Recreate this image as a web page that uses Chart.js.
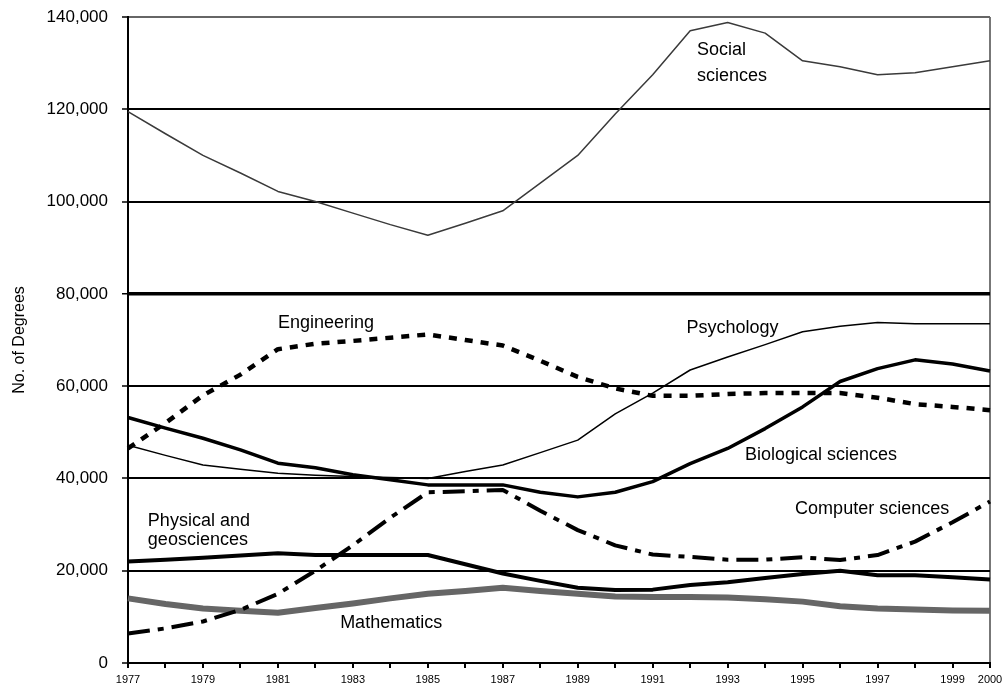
<!DOCTYPE html>
<html>
<head>
<meta charset="utf-8">
<script src="https://cdn.jsdelivr.net/npm/chart.js@4.4.1/dist/chart.umd.min.js"></script>
<style>
  html, body { margin: 0; padding: 0; background: #fff; }
  #wrap { width: 1004px; height: 689px; position: relative; }
</style>
</head>
<body>
<div id="wrap"><canvas id="c" width="1004" height="689"></canvas></div>
<script>
const years = [1977,1978,1979,1980,1981,1982,1983,1984,1985,1986,1987,1988,1989,1990,1991,1992,1993,1994,1995,1996,1997,1998,1999,2000];
const yTicks = [0,20000,40000,60000,80000,100000,120000,140000];

const socialSciences = [119500,114700,110000,106200,102200,100000,97500,95000,92700,95300,98000,104000,110000,119000,127500,137000,138800,136500,130500,129200,127500,127900,129200,130500];
const engineering = [46500,52000,58000,62500,68000,69200,69800,70500,71200,70000,68800,65500,62000,59500,57900,57900,58300,58500,58500,58500,57500,56100,55500,54800];
const psychology = [47200,45000,42900,42000,41100,40700,40400,40200,40000,41500,42900,45600,48300,54000,58500,63500,66300,69000,71800,73000,73800,73500,73500,73500];
const biologicalSciences = [53200,50900,48700,46200,43300,42300,40800,39700,38600,38600,38600,37000,36000,37000,39300,43200,46500,50800,55500,61000,63800,65700,64800,63300];
const computerSciences = [6400,7500,9000,11500,15000,20000,25500,31500,37000,37200,37500,33000,28800,25500,23500,23000,22400,22400,22900,22300,23400,26300,30500,35000];
const physicalGeosciences = [22000,22400,22800,23300,23800,23400,23400,23400,23400,21400,19400,17800,16300,15800,15900,16900,17500,18400,19300,20000,19000,19000,18600,18100];
const mathematics = [14000,12800,11800,11300,10900,11900,12900,14000,15000,15600,16300,15600,15000,14400,14300,14300,14200,13800,13300,12300,11800,11600,11400,11300];

// series labels: [text, anchor year, anchor value]
const seriesLabels = [
  ['Social', 1992.18, 132800],
  ['sciences', 1992.18, 127200],
  ['Engineering', 1981.0, 73700],
  ['Psychology', 1991.9, 72600],
  ['Biological sciences', 1993.46, 45100],
  ['Physical and', 1977.53, 30800],
  ['geosciences', 1977.53, 26700],
  ['Computer sciences', 1994.8, 33400],
  ['Mathematics', 1982.66, 8700]
];

const FONT = "'Liberation Sans', Arial, Helvetica, sans-serif";

const labelPlugin = {
  id: 'seriesLabels',
  afterDatasetsDraw(chart) {
    const ctx = chart.ctx;
    const xs = chart.scales.x, ys = chart.scales.y;
    ctx.save();
    ctx.font = '18px ' + FONT;
    ctx.fillStyle = '#000';
    ctx.textAlign = 'left';
    ctx.textBaseline = 'middle';
    seriesLabels.forEach(([t, yr, v]) => {
      ctx.fillText(t, xs.getPixelForValue(yr - years[0]), ys.getPixelForValue(v));
    });
    ctx.restore();
  }
};

function ds(label, data, color, width, dash) {
  return {
    label, data,
    borderColor: color,
    backgroundColor: color,
    borderWidth: width,
    borderDash: dash || [],
    pointRadius: 0,
    tension: 0,
    fill: false,
    borderCapStyle: 'butt',
    borderJoinStyle: 'round'
  };
}

new Chart(document.getElementById('c'), {
  type: 'line',
  data: {
    labels: years.map(String),
    datasets: [
      ds('Social sciences', socialSciences, '#3a3a3a', 1.5),
      ds('Psychology', psychology, '#000', 1.5),
      ds('Engineering', engineering, '#000', 4.5, [8, 8]),
      ds('Biological sciences', biologicalSciences, '#000', 3.5),
      ds('Computer sciences', computerSciences, '#000', 4, [22, 8, 6, 8]),
      ds('Physical and geosciences', physicalGeosciences, '#000', 4),
      ds('Mathematics', mathematics, '#666', 6)
    ]
  },
  options: {
    responsive: false,
    animation: false,
    events: [],
    layout: { padding: { top: 17, right: 14, left: 0, bottom: 0 } },
    plugins: { legend: { display: false }, tooltip: { enabled: false } },
    scales: {
      x: {
        type: 'category',
        offset: false,
        afterFit(scale) {
          scale.height = 26;
          scale.paddingLeft = 0; scale.paddingRight = 0;
        },
        border: { color: '#000', width: 2 },
        grid: {
          drawOnChartArea: true,
          color: c => (c.index === years.length - 1 ? '#777' : 'rgba(0,0,0,0)'),
          lineWidth: 2,
          tickColor: '#000',
          tickLength: 5,
          tickWidth: 2
        },
        ticks: {
          autoSkip: false,
          maxRotation: 0,
          padding: 5,
          color: '#000',
          font: { family: FONT, size: 11 },
          callback: function(v, i) {
            const y = years[i];
            return (y % 2 === 1 || i === years.length - 1) ? String(y) : '';
          }
        }
      },
      y: {
        min: 0,
        max: 140000,
        afterFit(scale) {
          scale.width = 128;
          scale.paddingTop = 0; scale.paddingBottom = 0;
        },
        afterBuildTicks(scale) { scale.ticks = yTicks.map(v => ({ value: v })); },
        border: { color: '#000', width: 2 },
        grid: {
          color: c => (c.tick && c.tick.value === 140000 ? '#666' : '#000'),
          lineWidth: c => (c.tick && c.tick.value === 80000 ? 3.5 : 2),
          tickColor: '#000',
          tickLength: 6,
          tickWidth: 1.5
        },
        ticks: {
          padding: 14,
          color: '#000',
          font: { family: FONT, size: 17 },
          callback: v => v.toLocaleString('en-US')
        },
        title: {
          display: true,
          text: 'No. of Degrees',
          color: '#000',
          font: { family: FONT, size: 16 },
          padding: { top: 10, bottom: 0 }
        }
      }
    }
  },
  plugins: [labelPlugin]
});
</script>
</body>
</html>
